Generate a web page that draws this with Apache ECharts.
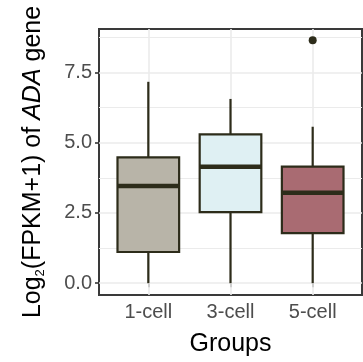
<!DOCTYPE html>
<html>
<head>
<meta charset="utf-8">
<script src="https://cdn.jsdelivr.net/npm/echarts@6/dist/echarts.min.js"></script>
<style>
  html, body { margin: 0; padding: 0; background: #fff; }
  #chart { width: 363px; height: 362px; }
</style>
</head>
<body>
<div id="chart"></div>
<script>
// values
const groups = ['1-cell', '3-cell', '5-cell']
const whiskerLow = [0, 0, 0]
const q1 = [1.11, 2.53, 1.78]
const median = [3.46, 4.15, 3.22]
const q3 = [4.48, 5.30, 4.15]
const whiskerHigh = [7.17, 6.56, 5.57]
const outliers = [[3, 8.65]]
const yTicks = [0, 2.5, 5, 7.5]
const yMinor = [1.25, 3.75, 6.25, 8.75]

const fills = ['#b8b4a8', '#dff0f3', '#a96b72']
const lineColor = '#2d2c1a'
const font = 'Liberation Sans, Arial, sans-serif'

const boxData = groups.map((g, i) => [i + 1, whiskerLow[i], q1[i], median[i], q3[i], whiskerHigh[i]])

const chart = echarts.init(document.getElementById('chart'))

chart.setOption({
  animation: false,
  textStyle: { fontFamily: font },
  grid: {
    left: 99, top: 29, width: 263, height: 266,
    show: true, borderColor: '#3a3a3a', borderWidth: 2, backgroundColor: '#fff'
  },
  xAxis: {
    type: 'value', min: 0.4, max: 3.6,
    name: 'Groups', nameLocation: 'middle', nameGap: 37,
    nameTextStyle: { fontSize: 25, color: '#000', fontFamily: font },
    axisLine: { show: false },
    splitLine: { show: false },
    axisTick: { show: true, length: 4, customValues: [1, 2, 3], lineStyle: { color: '#333', width: 1.6 } },
    axisLabel: {
      customValues: [1, 2, 3], fontSize: 20, color: '#4d4d4d', margin: 7,
      formatter: v => groups[Math.round(v) - 1]
    }
  },
  yAxis: {
    type: 'value', min: -0.42, max: 9.05,
    name: '{n|Log}{s|2}{n|(FPKM+1) of }{i|ADA}{n| gene}',
    nameLocation: 'middle', nameGap: 52, nameRotate: 90,
    nameTextStyle: {
      color: '#000',
      rich: {
        n: { fontSize: 25, fontFamily: font, color: '#000' },
        i: { fontSize: 25, fontFamily: font, fontStyle: 'italic', color: '#000' },
        s: { fontSize: 13, fontFamily: font, color: '#000', padding: [14, 0, 0, 0] }
      }
    },
    axisLine: { show: false },
    splitLine: { show: false },
    axisTick: { show: true, length: 4, customValues: yTicks, lineStyle: { color: '#333', width: 1.6 } },
    axisLabel: {
      customValues: yTicks, fontSize: 20, color: '#4d4d4d', margin: 7,
      formatter: v => v.toFixed(1)
    }
  },
  series: [
    {
      // panel grid lines
      type: 'line', data: [], z: 1, silent: true,
      markLine: {
        silent: true, z: 1, symbol: ['none', 'none'], label: { show: false },
        animation: false,
        data: [
          ...yMinor.map(v => ({ yAxis: v, lineStyle: { color: '#ebebeb', width: 1, type: 'solid' } })),
          ...yTicks.map(v => ({ yAxis: v, lineStyle: { color: '#ebebeb', width: 1.6, type: 'solid' } })),
          ...[1, 2, 3].map(v => ({ xAxis: v, lineStyle: { color: '#ebebeb', width: 1.6, type: 'solid' } }))
        ]
      }
    },
    {
      type: 'custom', z: 6,
      data: boxData,
      encode: { x: 0, y: [1, 2, 3, 4, 5] },
      renderItem(params, api) {
        const x = api.value(0)
        const w = api.size([0.75, 0])[0]
        const lo = api.coord([x, api.value(1)])
        const b1 = api.coord([x, api.value(2)])
        const md = api.coord([x, api.value(3)])
        const b3 = api.coord([x, api.value(4)])
        const hi = api.coord([x, api.value(5)])
        const stroke = { stroke: lineColor, lineWidth: 2.2 }
        return {
          type: 'group',
          children: [
            { type: 'line', shape: { x1: lo[0], y1: lo[1], x2: b1[0], y2: b1[1] }, style: stroke },
            { type: 'line', shape: { x1: b3[0], y1: b3[1], x2: hi[0], y2: hi[1] }, style: stroke },
            {
              type: 'rect',
              shape: { x: b3[0] - w / 2, y: b3[1], width: w, height: b1[1] - b3[1] },
              style: { fill: fills[params.dataIndex], stroke: lineColor, lineWidth: 2.2 }
            },
            {
              type: 'line',
              shape: { x1: md[0] - w / 2, y1: md[1], x2: md[0] + w / 2, y2: md[1] },
              style: { stroke: lineColor, lineWidth: 4.5 }
            }
          ]
        }
      }
    },
    {
      type: 'scatter', z: 7,
      data: outliers,
      symbolSize: 8,
      itemStyle: { color: lineColor, opacity: 1 }
    }
  ]
})
</script>
</body>
</html>
